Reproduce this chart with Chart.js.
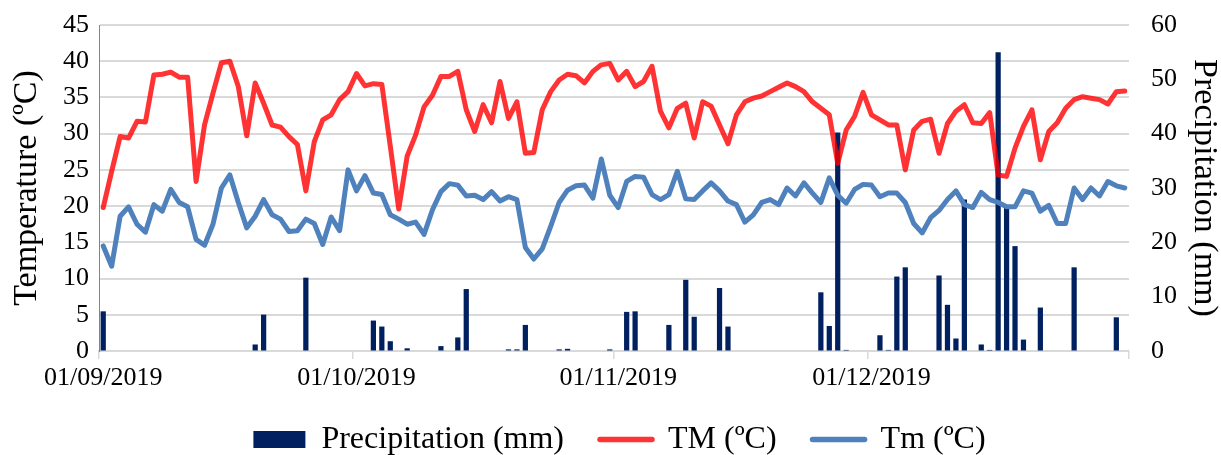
<!DOCTYPE html>
<html>
<head>
<meta charset="utf-8">
<script src="https://cdn.jsdelivr.net/npm/chart.js@4.4.0/dist/chart.umd.min.js"></script>
<style>
  html, body { margin: 0; padding: 0; background: #fff; }
  #wrap { width: 1221px; height: 455px; position: relative; }
</style>
</head>
<body>
<div id="wrap"><canvas id="chart"></canvas></div>
<script>
// Daily values, 01/09/2019 .. 31/12/2019
const monthLengths = [30, 31, 30, 31];
const monthNumbers = ['09', '10', '11', '12'];
const tickLabels = ['01/09/2019', '01/10/2019', '01/11/2019', '01/12/2019'];

const days = [];
monthLengths.forEach((len, m) => {
  for (let d = 1; d <= len; d++) {
    days.push(String(d).padStart(2, '0') + '/' + monthNumbers[m] + '/2019');
  }
});

const tmMax = [
  19.8, 24.8, 29.6, 29.4, 31.7, 31.6, 38.1, 38.2, 38.5, 37.8,
  37.8, 23.4, 31.2, 35.6, 39.8, 40.0, 36.5, 29.7, 37.0, 34.2,
  31.2, 30.9, 29.6, 28.5, 22.1, 28.9, 31.9, 32.6, 34.7, 35.8,
  38.3, 36.6, 36.9, 36.8, 28.3, 19.6, 26.9, 29.8, 33.7, 35.3,
  37.9, 37.9, 38.6, 33.3, 30.3, 34.0, 31.5, 37.2, 32.1, 34.4,
  27.3, 27.4, 33.3, 35.8, 37.4, 38.2, 38.0, 37.0, 38.6, 39.5,
  39.7, 37.4, 38.6, 36.5, 37.2, 39.3, 33.1, 30.8, 33.5, 34.2,
  29.4, 34.4, 33.8, 31.2, 28.6, 32.6, 34.4, 34.9, 35.2, 35.8,
  36.4, 37.0, 36.5, 35.8, 34.4, 33.5, 32.6, 25.9, 30.5, 32.4,
  35.7, 32.6, 31.9, 31.2, 31.2, 25.0, 30.5, 31.7, 32.0, 27.3,
  31.4, 33.1, 34.0, 31.5, 31.4, 32.9, 24.3, 24.1, 28.0, 31.0,
  33.3, 26.4, 30.3, 31.5, 33.5, 34.7, 35.1, 34.9, 34.7, 34.1,
  35.8, 35.9
];

const tmMin = [
  14.5, 11.7, 18.6, 19.9, 17.5, 16.4, 20.2, 19.3, 22.3, 20.5,
  19.9, 15.4, 14.6, 17.5, 22.5, 24.3, 20.5, 17.0, 18.6, 20.9,
  18.8, 18.2, 16.5, 16.6, 18.2, 17.6, 14.7, 18.5, 16.6, 25.0,
  22.1, 24.2, 21.8, 21.6, 18.8, 18.2, 17.5, 17.8, 16.1, 19.5,
  22.0, 23.1, 22.9, 21.4, 21.5, 20.9, 22.0, 20.7, 21.3, 20.9,
  14.3, 12.7, 14.1, 17.2, 20.5, 22.2, 22.8, 22.9, 21.1, 26.5,
  21.5, 19.8, 23.4, 24.1, 24.0, 21.6, 20.9, 21.6, 24.8, 21.0,
  20.9, 22.1, 23.2, 22.1, 20.7, 20.2, 17.8, 18.8, 20.5, 20.9,
  20.2, 22.5, 21.4, 23.2, 21.8, 20.5, 23.9, 21.5, 20.4, 22.3,
  23.0, 22.9, 21.3, 21.8, 21.8, 20.5, 17.6, 16.3, 18.4, 19.4,
  20.9, 22.1, 20.2, 19.8, 21.9, 20.9, 20.5, 19.9, 19.9, 22.1,
  21.8, 19.3, 20.1, 17.6, 17.6, 22.5, 20.9, 22.5, 21.4, 23.4,
  22.8, 22.5
];

const precipitation = [
  7.3, 0, 0, 0, 0, 0, 0, 0, 0, 0,
  0, 0, 0, 0, 0, 0, 0, 0, 1.2, 6.7,
  0, 0, 0, 0, 13.5, 0, 0, 0, 0, 0,
  0, 0, 5.6, 4.5, 1.8, 0, 0.5, 0, 0, 0,
  0.9, 0, 2.5, 11.4, 0, 0, 0, 0, 0.3, 0.3,
  4.8, 0, 0, 0, 0.3, 0.4, 0, 0, 0, 0,
  0.3, 0, 7.2, 7.3, 0, 0, 0, 4.8, 0, 13.1,
  6.3, 0, 0, 11.6, 4.5, 0, 0, 0, 0, 0,
  0, 0, 0, 0, 0, 10.8, 4.6, 40.2, 0.2, 0,
  0, 0, 2.9, 0.2, 13.7, 15.4, 0, 0, 0, 13.9,
  8.5, 2.3, 27.9, 0, 1.2, 0.2, 55.0, 26.4, 19.3, 2.1,
  0, 8.0, 0, 0, 0, 15.4, 0, 0, 0, 0,
  6.2, 0
];

// index of the first day of each month, plus the closing edge
const monthStarts = [0, 30, 61, 91, 122];

const serif = 'Liberation Serif, Times New Roman, serif';
const gridGray = '#d9d9d9';

const ctx = document.getElementById('chart');

new Chart(ctx, {
  type: 'bar',
  data: {
    labels: days,
    datasets: [
      {
        type: 'bar',
        label: 'Precipitation (mm)',
        data: precipitation,
        yAxisID: 'y2',
        backgroundColor: '#002060',
        borderWidth: 0,
        barPercentage: 0.62,
        categoryPercentage: 1.0,
        pointStyle: 'rect',
        order: 3
      },
      {
        type: 'line',
        label: 'TM (ºC)',
        data: tmMax,
        yAxisID: 'y',
        borderColor: 'rgba(255, 0, 0, 0.8)',
        backgroundColor: 'rgba(255, 0, 0, 0.8)',
        borderWidth: 5,
        borderJoinStyle: 'round',
        borderCapStyle: 'round',
        pointRadius: 0,
        pointBorderWidth: 5,
        pointStyle: 'line',
        tension: 0,
        order: 1
      },
      {
        type: 'line',
        label: 'Tm (ºC)',
        data: tmMin,
        yAxisID: 'y',
        borderColor: '#4f81bd',
        backgroundColor: '#4f81bd',
        borderWidth: 5,
        borderJoinStyle: 'round',
        borderCapStyle: 'round',
        pointRadius: 0,
        pointBorderWidth: 5,
        pointStyle: 'line',
        tension: 0,
        order: 2
      }
    ]
  },
  options: {
    responsive: true,
    maintainAspectRatio: false,
    animation: false,
    layout: {
      padding: { top: 25, bottom: -10.5, left: 18, right: 0 }
    },
    scales: {
      x: {
        offset: true,
        afterFit: (scale) => { scale.height = 36.5; },
        grid: {
          offset: true,
          drawOnChartArea: false,
          drawTicks: true,
          tickLength: 8,
          lineWidth: 1.5,
          color: (c) => {
            if (c.type !== 'tick') return gridGray; // closing edge line
            return monthStarts.includes(c.index) ? gridGray : 'rgba(0,0,0,0)';
          }
        },
        border: { color: gridGray, width: 2 },
        ticks: {
          autoSkip: false,
          maxRotation: 0,
          minRotation: 0,
          padding: 4,
          color: '#000',
          font: { family: serif, size: 26 },
          callback: function (value, index) {
            const pos = monthStarts.indexOf(index);
            return pos >= 0 && pos < tickLabels.length ? tickLabels[pos] : '';
          }
        }
      },
      y: {
        position: 'left',
        min: 0,
        max: 45,
        afterFit: (scale) => { scale.width = 81; },
        ticks: {
          stepSize: 5,
          padding: 4,
          color: '#000',
          font: { family: serif, size: 26 }
        },
        grid: {
          color: (c) => c.type === 'tick' ? gridGray : 'rgba(0,0,0,0)',
          lineWidth: 2,
          drawTicks: true,
          tickLength: 6,
          tickColor: 'rgba(0,0,0,0)'
        },
        border: { color: '#5b8cc8', width: 1 },
        title: {
          display: true,
          text: 'Temperature (ºC)',
          color: '#000',
          font: { family: serif, size: 34, lineHeight: 1 },
          padding: { top: -8, bottom: 0 }
        }
      },
      y2: {
        position: 'right',
        min: 0,
        max: 60,
        afterFit: (scale) => { scale.width = 92; },
        ticks: {
          stepSize: 10,
          padding: 4,
          color: '#000',
          font: { family: serif, size: 26 }
        },
        grid: {
          display: true,
          drawOnChartArea: false,
          drawTicks: true,
          tickLength: 18,
          color: 'rgba(0,0,0,0)'
        },
        border: { display: false },
        title: {
          display: true,
          text: 'Precipitation (mm)',
          color: '#000',
          font: { family: serif, size: 34, lineHeight: 1 },
          padding: { top: 0, bottom: 0 }
        }
      }
    },
    plugins: {
      legend: {
        display: true,
        position: 'bottom',
        labels: {
          color: '#000',
          font: { family: serif, size: 32 },
          usePointStyle: true,
          pointStyleWidth: 52,
          boxHeight: 17,
          padding: 36,
          sort: (a, b) => a.datasetIndex - b.datasetIndex,
          generateLabels: (chart) => {
            const labels = Chart.defaults.plugins.legend.labels.generateLabels(chart);
            return labels.map(label => {
              if (label.pointStyle === 'line') {
                label.lineCap = 'round';
                label.lineWidth = 5.5;
              }
              return label;
            });
          }
        }
      },
      tooltip: { enabled: false }
    }
  }
});
</script>
</body>
</html>
